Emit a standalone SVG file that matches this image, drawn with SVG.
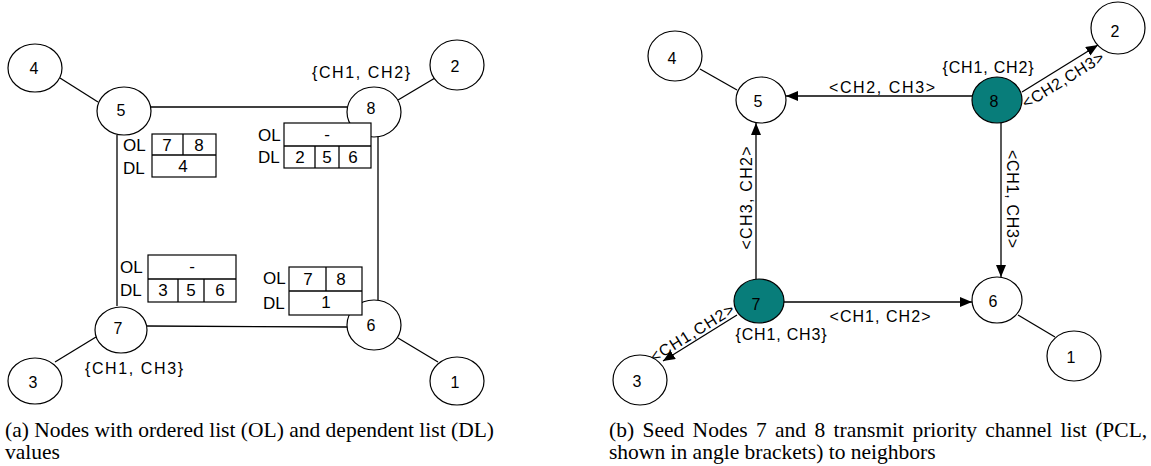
<svg xmlns="http://www.w3.org/2000/svg" width="1151" height="466" viewBox="0 0 1151 466">
<style>
.nd{fill:#fff;stroke:#000;stroke-width:1.2}
.seed{fill:#087d7a;stroke:#000;stroke-width:1.2}
.ln{stroke:#000;stroke-width:1.3;fill:none}
.ar{stroke:#000;stroke-width:1.3;fill:none;marker-end:url(#ah)}
.tb{fill:#fff;stroke:#000;stroke-width:1.2}
.t{font-family:"Liberation Sans",Arial,sans-serif;font-size:16px;fill:#000;text-anchor:middle;dominant-baseline:central}
.tc{font-family:"Liberation Sans",Arial,sans-serif;font-size:17px;fill:#000;text-anchor:middle;dominant-baseline:central}
.tl{font-family:"Liberation Sans",Arial,sans-serif;font-size:17px;fill:#000;dominant-baseline:central}
.cap{font-family:"Liberation Serif","Times New Roman",serif;font-size:21.5px;fill:#000}
</style>
<defs>
<marker id="ah" viewBox="0 0 12 10" refX="12" refY="5" markerWidth="12" markerHeight="10" markerUnits="userSpaceOnUse" orient="auto">
<path d="M0,0 L12,5 L0,10 z" fill="#000"/>
</marker>
</defs>
<rect width="1151" height="466" fill="#fff"/>

<!-- LEFT: connectors -->
<g id="connectors-a">
<line class="ln" x1="60" y1="78" x2="98" y2="102"/>
<line class="ln" x1="151" y1="107" x2="347" y2="107"/>
<line class="ln" x1="398" y1="100" x2="435" y2="78"/>
<line class="ln" x1="117" y1="135" x2="117" y2="306"/>
<line class="ln" x1="378" y1="135" x2="378" y2="300"/>
<line class="ln" x1="147" y1="326" x2="347" y2="327"/>
<line class="ln" x1="96" y1="337" x2="55" y2="362"/>
<line class="ln" x1="398" y1="338" x2="438" y2="362"/>
</g>

<g id="a-node4"><ellipse class="nd" cx="35" cy="68" rx="27" ry="24"/><text class="t" x="34" y="68">4</text></g>
<g id="a-node5"><ellipse class="nd" cx="124" cy="111" rx="27" ry="24"/><text class="t" x="121" y="110">5</text></g>
<g id="a-node8"><ellipse class="nd" cx="374" cy="112" rx="27" ry="25"/><text class="t" x="371" y="108">8</text></g>
<g id="a-node2"><ellipse class="nd" cx="457" cy="65" rx="27" ry="25"/><text class="t" x="455" y="66">2</text></g>
<g id="a-node7"><ellipse class="nd" cx="121" cy="330" rx="26" ry="23"/><text class="t" x="118" y="328">7</text></g>
<g id="a-node3"><ellipse class="nd" cx="35" cy="381" rx="27" ry="23"/><text class="t" x="33" y="382">3</text></g>
<g id="a-node6"><ellipse class="nd" cx="374" cy="325" rx="27" ry="25"/><text class="t" x="371" y="325">6</text></g>
<g id="a-node1"><ellipse class="nd" cx="457" cy="381" rx="27" ry="24"/><text class="t" x="455" y="382">1</text></g>

<g id="a-label8"><text class="t" x="361" y="72" textLength="98" lengthAdjust="spacing">{CH1, CH2}</text></g>
<g id="a-label7"><text class="t" x="134" y="368" textLength="98" lengthAdjust="spacing">{CH1, CH3}</text></g>

<g id="table5">
<rect class="tb" x="152" y="134" width="64" height="43"/>
<line class="ln" x1="152" y1="155" x2="216" y2="155"/>
<line class="ln" x1="183" y1="134" x2="183" y2="155"/>
<text class="tl" x="123" y="145">OL</text><text class="tl" x="123" y="168">DL</text>
<text class="tc" x="167" y="145">7</text><text class="tc" x="199" y="145">8</text>
<text class="tc" x="183" y="166">4</text>
</g>
<g id="table8">
<rect class="tb" x="284" y="123" width="87" height="45"/>
<line class="ln" x1="284" y1="146" x2="371" y2="146"/>
<line class="ln" x1="315" y1="146" x2="315" y2="168"/>
<line class="ln" x1="339" y1="146" x2="339" y2="168"/>
<text class="tl" x="258" y="135">OL</text><text class="tl" x="258" y="157">DL</text>
<text class="tc" x="327" y="134">-</text>
<text class="tc" x="300" y="157">2</text><text class="tc" x="327" y="157">5</text><text class="tc" x="353" y="157">6</text>
</g>
<g id="table7">
<rect class="tb" x="148" y="255" width="88" height="47"/>
<line class="ln" x1="148" y1="279" x2="236" y2="279"/>
<line class="ln" x1="178" y1="279" x2="178" y2="302"/>
<line class="ln" x1="204" y1="279" x2="204" y2="302"/>
<text class="tl" x="120" y="267">OL</text><text class="tl" x="120" y="290">DL</text>
<text class="tc" x="192" y="266">-</text>
<text class="tc" x="163" y="290">3</text><text class="tc" x="191" y="290">5</text><text class="tc" x="220" y="290">6</text>
</g>
<g id="table6">
<rect class="tb" x="289" y="267" width="73" height="48"/>
<line class="ln" x1="289" y1="291" x2="362" y2="291"/>
<line class="ln" x1="326" y1="267" x2="326" y2="291"/>
<text class="tl" x="263" y="278">OL</text><text class="tl" x="263" y="303">DL</text>
<text class="tc" x="308" y="279">7</text><text class="tc" x="341" y="279">8</text>
<text class="tc" x="326" y="302">1</text>
</g>

<!-- RIGHT: connectors -->
<g id="connectors-b">
<line class="ln" x1="700" y1="69" x2="737" y2="90"/>
<line class="ar" x1="972" y1="96" x2="786" y2="96"/>
<line class="ar" x1="1022" y1="92" x2="1098" y2="45"/>
<line class="ar" x1="1001" y1="123" x2="1001" y2="277"/>
<line class="ar" x1="783" y1="302" x2="972" y2="302"/>
<line class="ar" x1="756" y1="279" x2="756" y2="123"/>
<line class="ar" x1="737" y1="315" x2="663" y2="361"/>
<line class="ln" x1="1018" y1="315" x2="1055" y2="337"/>
<text class="t" x="882" y="87" textLength="106" lengthAdjust="spacing">&lt;CH2, CH3&gt;</text>
<text class="t" transform="translate(1063,80) rotate(-31.7)" textLength="93" lengthAdjust="spacing">&lt;CH2,CH3&gt;</text>
<text class="t" transform="translate(1012,199) rotate(90)" textLength="98" lengthAdjust="spacing">&lt;CH1, CH3&gt;</text>
<text class="t" transform="translate(746,198) rotate(-90)" textLength="103" lengthAdjust="spacing">&lt;CH3, CH2&gt;</text>
<text class="t" x="880" y="316" textLength="101" lengthAdjust="spacing">&lt;CH1, CH2&gt;</text>
<text class="t" transform="translate(692,333) rotate(-31.9)" textLength="96" lengthAdjust="spacing">&lt;CH1,CH2&gt;</text>
</g>

<g id="b-node4"><ellipse class="nd" cx="675" cy="56" rx="27" ry="25"/><text class="t" x="672" y="58">4</text></g>
<g id="b-node5"><ellipse class="nd" cx="761" cy="100" rx="25" ry="23"/><text class="t" x="758" y="101">5</text></g>
<g id="b-node8"><ellipse class="seed" cx="997" cy="100" rx="25" ry="23"/><text class="t" x="994" y="101">8</text></g>
<g id="b-node2"><ellipse class="nd" cx="1118" cy="28" rx="27" ry="26"/><text class="t" x="1115" y="31">2</text></g>
<g id="b-node7"><ellipse class="seed" cx="759" cy="301" rx="25" ry="22"/><text class="t" x="756" y="304">7</text></g>
<g id="b-node6"><ellipse class="nd" cx="997" cy="300" rx="25" ry="23"/><text class="t" x="993" y="301">6</text></g>
<g id="b-node3"><ellipse class="nd" cx="640" cy="380" rx="27" ry="25"/><text class="t" x="637" y="381">3</text></g>
<g id="b-node1"><ellipse class="nd" cx="1074" cy="356" rx="27" ry="25"/><text class="t" x="1071" y="357">1</text></g>
<g id="b-label8"><text class="t" x="988" y="67" textLength="91" lengthAdjust="spacing">{CH1, CH2}</text></g>
<g id="b-label7"><text class="t" x="781" y="334" textLength="91" lengthAdjust="spacing">{CH1, CH3}</text></g>

<g id="captions">
<text class="cap" x="5" y="437">(a) Nodes with ordered list (OL) and dependent list (DL)</text>
<text class="cap" x="5" y="459">values</text>
<text class="cap" x="609" y="437" word-spacing="3">(b) Seed Nodes 7 and 8 transmit priority channel list (PCL,</text>
<text class="cap" x="609" y="459">shown in angle brackets) to neighbors</text>
</g>
</svg>
